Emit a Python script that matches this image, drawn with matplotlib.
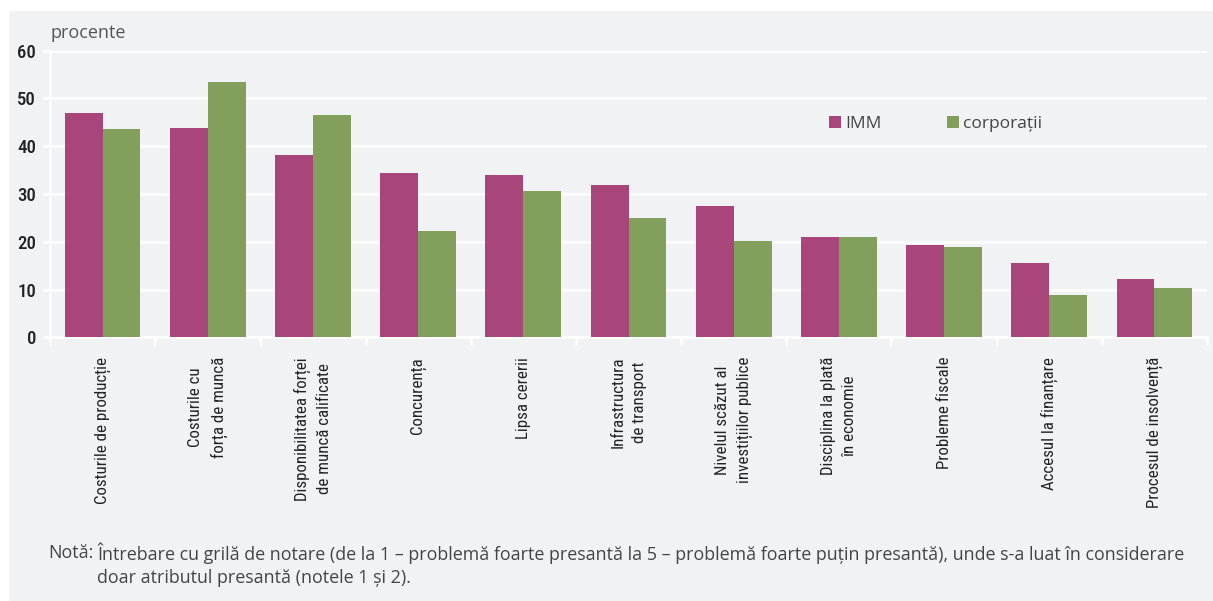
import matplotlib.pyplot as plt
import numpy as np
from matplotlib.patches import Rectangle

categories = [
    'Costurile de producție',
    'Costurile cu\nforța de muncă',
    'Disponibilitatea forței\nde muncă calificate',
    'Concurența',
    'Lipsa cererii',
    'Infrastructura\nde transport',
    'Nivelul scăzut al\ninvestițiilor publice',
    'Disciplina la plată\nîn economie',
    'Probleme fiscale',
    'Accesul la finanțare',
    'Procesul de insolvență',
]
imm = [47.0, 43.9, 38.1, 34.5, 34.0, 31.9, 27.5, 21.1, 19.4, 15.5, 12.2]
corporatii = [43.7, 53.5, 46.5, 22.2, 30.6, 25.0, 20.1, 21.1, 18.9, 8.8, 10.3]
yticks = [0, 10, 20, 30, 40, 50, 60]

bg = '#f1f2f4'
c_imm = '#a8457a'
c_corp = '#829f5c'
narrow = ['Roboto Condensed', 'DejaVu Sans']
regular = ['Open Sans', 'DejaVu Sans']

fig = plt.figure(figsize=(12.13, 6.01), dpi=100)
fig.patch.set_facecolor('white')
fig.patches.append(Rectangle((9 / 1213, 0), 1 - 9 / 1213, 1 - 11 / 601,
                             transform=fig.transFigure, facecolor=bg,
                             edgecolor='none', zorder=-10))

ax = fig.add_axes([50 / 1213, 1 - 337.5 / 601, 1157 / 1213, 286.8 / 601])
ax.set_facecolor(bg)

x = np.arange(len(categories))
w = 0.36
ax.bar(x - w / 2, imm, w, color=c_imm, label='IMM', zorder=3)
ax.bar(x + w / 2, corporatii, w, color=c_corp, label='corporații', zorder=3)

ax.set_xlim(-0.5, len(categories) - 0.5)
ax.set_ylim(0, 60)
ax.set_yticks(yticks)
ax.grid(axis='y', color='white', linewidth=1.8, zorder=0)
ax.set_axisbelow(True)

for s in ['top', 'right']:
    ax.spines[s].set_visible(False)
for s in ['left', 'bottom']:
    ax.spines[s].set_color('white')
    ax.spines[s].set_linewidth(1.8)

ax.set_xticks(x)
ax.set_xticklabels(categories, rotation=90, ha='center', va='top',
                   multialignment='center', fontsize=12.2, family=narrow,
                   color='#222222', linespacing=1.55)
ax.set_xticks(np.arange(len(categories) + 1) - 0.5, minor=True)
ax.tick_params(axis='x', which='major', length=0, pad=14)
ax.tick_params(axis='x', which='minor', length=6, width=1.8, color='white')
ax.tick_params(axis='y', length=5, width=1.8, color='white', pad=5,
               labelsize=13.5, labelcolor='#222222')
for t in ax.get_yticklabels():
    t.set_family(narrow)
    t.set_fontweight('medium')

ax.legend(loc='center left', bbox_to_anchor=(0.66, 0.745), ncol=2,
          frameon=False, prop={'family': regular, 'size': 12.5},
          handlelength=0.7, handleheight=0.7, handletextpad=0.2,
          columnspacing=3.8, labelcolor='#444444')

fig.text(50 / 1213, 1 - 33 / 601, 'procente', fontsize=13, family=regular,
         color='#555555', va='center', ha='left')
fig.text(48 / 1213, 1 - 553 / 601, 'Notă:', fontsize=12.9, family=regular,
         color='#444444', va='center', ha='left')
fig.text(97 / 1213, 1 - 553 / 601,
         'Întrebare cu grilă de notare (de la 1 – problemă foarte presantă la 5 – '
         'problemă foarte puțin presantă), unde s-a luat în considerare',
         fontsize=12.9, family=regular, color='#444444', va='center', ha='left')
fig.text(97 / 1213, 1 - 578 / 601, 'doar atributul presantă (notele 1 și 2).',
         fontsize=12.9, family=regular, color='#444444', va='center', ha='left')

fig.savefig('out.png', dpi=100, facecolor=fig.get_facecolor())
